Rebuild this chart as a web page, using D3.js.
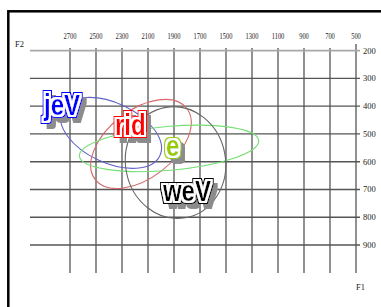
<!DOCTYPE html>
<html>
<head>
<meta charset="utf-8">
<script src="https://cdn.jsdelivr.net/npm/d3@7"></script>
<style>
  body { margin: 0; background: #fff; }
  svg { display: block; }
</style>
</head>
<body>
<div id="chart"></div>
<script>
// F2 across the top (decreasing), F1 down the right side
var f2Ticks = [2700, 2500, 2300, 2100, 1900, 1700, 1500, 1300, 1100, 900, 700, 500];
var f1Ticks = [200, 300, 400, 500, 600, 700, 800, 900];

// vowel ellipses: centre, semi axes (Hz) and tilt (deg)
var vowels   = ["jeV", "rid", "e", "weV"];
var centerF2 = [2385, 2154, 1938, 1888];
var centerF1 = [496, 536, 552, 603];
var radiusF2 = [415, 446, 692, 385];
var radiusF1 = [108, 122, 79, 202];
var tilt     = [25, -38, -5, -10];
var labelF2  = [2900, 2354, 1962, 1985];
var labelF1  = [432, 502, 579, 741];

var ellipseColor = ["#6262c8", "#d46a6a", "#74e074", "#666666"];
var labelColor   = ["#0000ff", "#ff0000", "#99cc00", "#000000"];

var width = 381, height = 307;

var x = d3.scaleLinear().domain([2700, 500]).range([70, 356]);
var y = d3.scaleLinear().domain([200, 900]).range([50.7, 245]);

var svg = d3.select("#chart").append("svg")
    .attr("width", width)
    .attr("height", height);

// outline + drop shadow for the vowel labels
var filter = svg.append("defs").append("filter")
    .attr("id", "outlined")
    .attr("x", "-0.3").attr("y", "-0.4")
    .attr("width", "1.7").attr("height", "1.9");

filter.append("feMorphology")
    .attr("in", "SourceAlpha").attr("operator", "dilate")
    .attr("radius", "3.1 2.5").attr("result", "shA0");
filter.append("feOffset")
    .attr("in", "shA0").attr("dx", 6).attr("dy", 5).attr("result", "shA");
filter.append("feFlood").attr("flood-color", "#8c8c8c").attr("result", "grey");
filter.append("feComposite")
    .attr("in", "grey").attr("in2", "shA").attr("operator", "in").attr("result", "shadow");
filter.append("feMorphology")
    .attr("in", "SourceGraphic").attr("operator", "dilate")
    .attr("radius", "4 3.2").attr("result", "outer");
filter.append("feMorphology")
    .attr("in", "SourceAlpha").attr("operator", "dilate")
    .attr("radius", "2.2 1.75").attr("result", "whiteA");
filter.append("feFlood").attr("flood-color", "#ffffff").attr("result", "whiteC");
filter.append("feComposite")
    .attr("in", "whiteC").attr("in2", "whiteA").attr("operator", "in").attr("result", "white");
var merge = filter.append("feMerge");
merge.append("feMergeNode").attr("in", "shadow");
merge.append("feMergeNode").attr("in", "outer");
merge.append("feMergeNode").attr("in", "white");
merge.append("feMergeNode").attr("in", "SourceGraphic");

// frame
svg.append("rect")
    .attr("x", 8.3).attr("y", 11.3)
    .attr("width", 420).attr("height", 320)
    .attr("fill", "none")
    .attr("stroke", "#000")
    .attr("stroke-width", 2.5);

// grid: vertical lines
svg.selectAll("line.v")
  .data(f2Ticks)
  .enter().append("line")
    .attr("class", "v")
    .attr("x1", function(d) { return x(d); })
    .attr("x2", function(d) { return x(d); })
    .attr("y1", function(d) { return d === 500 ? 44 : 48; })
    .attr("y2", 273)
    .attr("stroke", "#555")
    .attr("stroke-width", 1.3);

// grid: horizontal lines
svg.selectAll("line.h")
  .data(f1Ticks)
  .enter().append("line")
    .attr("class", "h")
    .attr("x1", 30)
    .attr("x2", 360)
    .attr("y1", function(d) { return y(d); })
    .attr("y2", function(d) { return y(d); })
    .attr("stroke", function(d) { return d === 200 ? "#a8a8a8" : "#555"; })
    .attr("stroke-width", function(d) { return d === 200 ? 1.8 : 1.3; });

// top labels (condensed serif)
svg.selectAll("g.topLabel")
  .data(f2Ticks)
  .enter().append("g")
    .attr("class", "topLabel")
    .attr("transform", function(d) { return "translate(" + x(d) + ",39) scale(0.72,1)"; })
  .append("text")
    .attr("text-anchor", "middle")
    .attr("font-family", "Liberation Serif, Times New Roman, serif")
    .attr("font-size", 9)
    .attr("fill", "#222")
    .text(function(d) { return d; });

// right labels
svg.selectAll("text.rightLabel")
  .data(f1Ticks)
  .enter().append("text")
    .attr("class", "rightLabel")
    .attr("x", 363)
    .attr("y", function(d) { return y(d) + 3; })
    .attr("font-family", "Liberation Serif, Times New Roman, serif")
    .attr("font-size", 8.5)
    .attr("fill", "#222")
    .text(function(d) { return d; });

svg.append("text")
    .attr("x", 15).attr("y", 47)
    .attr("font-family", "Liberation Serif, Times New Roman, serif")
    .attr("font-size", 8.5)
    .attr("fill", "#222")
    .text("F2");

svg.append("text")
    .attr("x", 356).attr("y", 290)
    .attr("font-family", "Liberation Serif, Times New Roman, serif")
    .attr("font-size", 8.5)
    .attr("fill", "#222")
    .text("F1");

// ellipses
svg.selectAll("ellipse.vowel")
  .data(vowels)
  .enter().append("ellipse")
    .attr("class", "vowel")
    .attr("transform", function(d, i) {
        return "translate(" + x(centerF2[i]) + "," + y(centerF1[i]) + ") rotate(" + tilt[i] + ")";
    })
    .attr("rx", function(d, i) { return x(centerF2[i] - radiusF2[i]) - x(centerF2[i]); })
    .attr("ry", function(d, i) { return y(centerF1[i] + radiusF1[i]) - y(centerF1[i]); })
    .attr("fill", "none")
    .attr("stroke", function(d, i) { return ellipseColor[i]; })
    .attr("stroke-width", 1.1);

// outlined vowel labels
svg.selectAll("g.vlabel")
  .data(vowels)
  .enter().append("g")
    .attr("class", "vlabel")
    .attr("transform", function(d, i) {
        return "translate(" + x(labelF2[i]) + "," + y(labelF1[i]) + ") scale(0.8,1)";
    })
  .append("text")
    .attr("font-family", "Liberation Sans, Arial, sans-serif")
    .attr("font-weight", "bold")
    .attr("font-size", 30)
    .attr("fill", function(d, i) { return labelColor[i]; })
    .attr("filter", "url(#outlined)")
    .text(function(d) { return d; });
</script>
</body>
</html>
